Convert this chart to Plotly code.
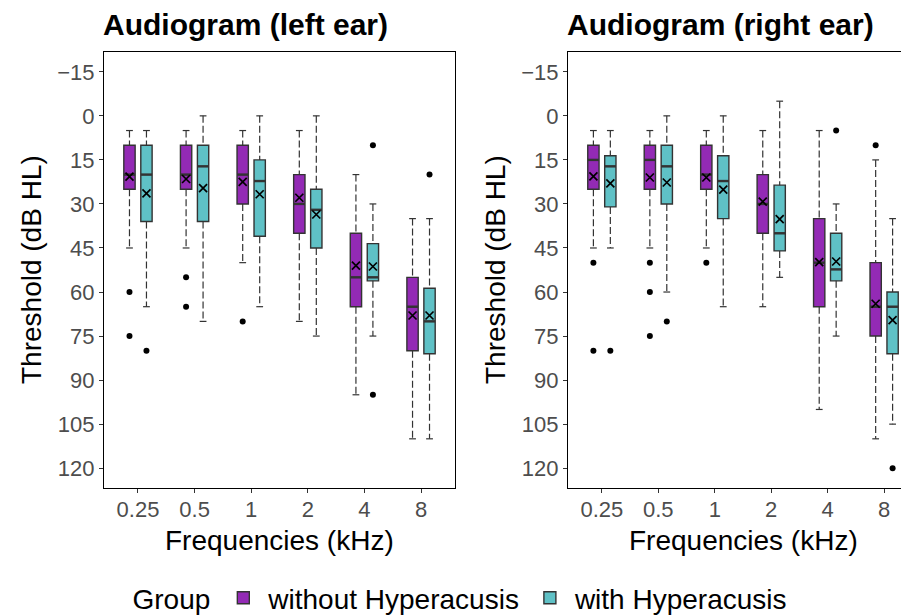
import plotly.graph_objects as go

freqs = ["0.25", "0.5", "1", "2", "4", "8"]

# left ear, without hyperacusis
L_wo_min = [5, 5, 5, 5, 20, 35]
L_wo_q1 = [10, 10, 10, 20, 40, 55]
L_wo_med = [20, 20, 20, 30, 55, 65]
L_wo_q3 = [25, 25, 30, 40, 65, 80]
L_wo_max = [45, 45, 50, 70, 95, 110]
L_wo_mean = [20.7, 21.5, 22.5, 27.9, 51, 68]
L_wo_out_f = ["0.25", "0.25", "0.5", "0.5", "1"]
L_wo_out_v = [60, 75, 55, 65, 70]

# left ear, with hyperacusis
L_w_min = [5, 0, 0, 0, 30, 35]
L_w_q1 = [10, 10, 15, 25, 43.5, 58.7]
L_w_med = [20, 17.2, 22.2, 32, 55, 70]
L_w_q3 = [36, 36, 41, 45, 56.2, 81]
L_w_max = [65, 70, 65, 75, 75, 110]
L_w_mean = [26.4, 24.6, 26.7, 33.6, 51.3, 68]
L_w_out_f = ["0.25", "4", "4", "8"]
L_w_out_v = [80, 10, 95, 20]

# right ear, without hyperacusis
R_wo_min = [5, 5, 5, 5, 5, 15]
R_wo_q1 = [10, 10, 10, 20, 35, 50]
R_wo_med = [15, 15, 20, 30, 50, 65]
R_wo_q3 = [25, 25, 25, 40, 65, 75]
R_wo_max = [45, 45, 45, 65, 100, 110]
R_wo_mean = [20.6, 21, 21, 29.2, 49.8, 64]
R_wo_out_f = ["0.25", "0.25", "0.5", "0.5", "0.5", "1", "8"]
R_wo_out_v = [50, 80, 50, 60, 75, 50, 10]

# right ear, with hyperacusis
R_w_min = [5, 0, 0, -5, 30, 35]
R_w_q1 = [13.6, 10, 13.6, 23.6, 40, 60]
R_w_med = [17.2, 17.2, 22.2, 40, 52.3, 65]
R_w_q3 = [31, 30, 35, 46, 56.2, 81]
R_w_max = [45, 60, 65, 55, 75, 105]
R_w_mean = [23, 22.7, 25.1, 35.2, 49.6, 69.6]
R_w_out_f = ["0.25", "0.5", "4", "8"]
R_w_out_v = [80, 70, 5, 120]

groups = ["without Hyperacusis", "with Hyperacusis"]
colors = {"without Hyperacusis": "#932AB5", "with Hyperacusis": "#5FC1C6"}
offsets = {"without Hyperacusis": -0.15, "with Hyperacusis": 0.15}

data = {
    ("left", "without Hyperacusis"): (L_wo_min, L_wo_q1, L_wo_med, L_wo_q3, L_wo_max, L_wo_mean, L_wo_out_f, L_wo_out_v),
    ("left", "with Hyperacusis"): (L_w_min, L_w_q1, L_w_med, L_w_q3, L_w_max, L_w_mean, L_w_out_f, L_w_out_v),
    ("right", "without Hyperacusis"): (R_wo_min, R_wo_q1, R_wo_med, R_wo_q3, R_wo_max, R_wo_mean, R_wo_out_f, R_wo_out_v),
    ("right", "with Hyperacusis"): (R_w_min, R_w_q1, R_w_med, R_w_q3, R_w_max, R_w_mean, R_w_out_f, R_w_out_v),
}

FONT = "Liberation Sans, Arial, sans-serif"
W, H = 909, 615
PAD = 8  # page body margin
box_w = 0.2
cap = 0.06
edge = "#333333"


def px(v):
    return (v - PAD) / W


def py(v):
    return 1 - (v - PAD) / H


fig = go.Figure()

for side, xa, ya in [("left", "x", "y"), ("right", "x2", "y2")]:
    for g in groups:
        mn, q1, med, q3, mx, mean, out_f, out_v = data[(side, g)]
        pos = [i + offsets[g] for i in range(len(freqs))]

        # dashed whiskers + caps
        wx, wy, cx, cy = [], [], [], []
        for p, a, b, c, d in zip(pos, mn, q1, q3, mx):
            wx += [p, p, None, p, p, None]
            wy += [a, b, None, c, d, None]
            cx += [p - cap, p + cap, None, p - cap, p + cap, None]
            cy += [a, a, None, d, d, None]
        fig.add_trace(go.Scatter(x=wx, y=wy, mode="lines", xaxis=xa, yaxis=ya,
                                 line=dict(color=edge, width=1.2, dash="7px,3px"),
                                 showlegend=False, hoverinfo="skip"))
        fig.add_trace(go.Scatter(x=cx, y=cy, mode="lines", xaxis=xa, yaxis=ya,
                                 line=dict(color=edge, width=1.2),
                                 showlegend=False, hoverinfo="skip"))

        fig.add_trace(go.Box(x=pos, q1=q1, median=med, q3=q3,
                             lowerfence=q1, upperfence=q3,
                             width=box_w, whiskerwidth=0,
                             fillcolor=colors[g], line=dict(color=edge, width=1.4),
                             boxpoints=False, name=g, legendgroup=g,
                             showlegend=(side == "left"), xaxis=xa, yaxis=ya))

        # thicker median bar
        mx_, my_ = [], []
        for p, m in zip(pos, med):
            mx_ += [p - box_w / 2, p + box_w / 2, None]
            my_ += [m, m, None]
        fig.add_trace(go.Scatter(x=mx_, y=my_, mode="lines", xaxis=xa, yaxis=ya,
                                 line=dict(color=edge, width=2.4),
                                 showlegend=False, hoverinfo="skip"))

        fig.add_trace(go.Scatter(x=pos, y=mean, mode="markers", xaxis=xa, yaxis=ya,
                                 marker=dict(symbol="x-thin", size=8, color="black",
                                             line=dict(width=1.7, color="black")),
                                 showlegend=False, hoverinfo="skip"))

        ox = [freqs.index(f) + offsets[g] for f in out_f]
        fig.add_trace(go.Scatter(x=ox, y=out_v, mode="markers", xaxis=xa, yaxis=ya,
                                 marker=dict(symbol="circle", size=6, color="black"),
                                 showlegend=False, hoverinfo="skip"))

xcommon = dict(tickvals=list(range(len(freqs))), ticktext=freqs, showgrid=False,
               zeroline=False, showline=True, linecolor="black", linewidth=1.2,
               mirror=True, ticks="outside", ticklen=4, tickcolor=edge,
               ticklabelstandoff=-3,
               tickfont=dict(size=22, color="#4D4D4D", family=FONT))
ycommon = dict(tickmode="linear", tick0=-15, dtick=15, range=[126.75, -21.75],
               showgrid=False, zeroline=False, showline=True, linecolor="black",
               linewidth=1.2, ticks="outside", ticklen=4, tickcolor=edge,
               tickfont=dict(size=22, color="#4D4D4D", family=FONT))

# right panel runs past the page edge, as in the reference
r_left, r_right = 568, 918
r_span = (W + PAD - r_left) / (r_right - r_left) * 6.2

fig.update_layout(
    width=W, height=H, autosize=False,
    margin=dict(l=0, r=0, t=0, b=0),
    paper_bgcolor="white", plot_bgcolor="white",
    font=dict(family=FONT, color="black"),
    xaxis=dict(domain=[px(104), px(455)], range=[-0.6, 5.6], anchor="y", **xcommon),
    yaxis=dict(domain=[py(488), py(52)], anchor="x", mirror=True, **ycommon),
    xaxis2=dict(domain=[px(r_left), 1.0], range=[-0.6, -0.6 + r_span], anchor="y2", **xcommon),
    yaxis2=dict(domain=[py(488), py(52)], anchor="x2", mirror=False, **ycommon),
    showlegend=True,
    legend=dict(orientation="h", x=px(462), xanchor="center", y=py(598),
                yanchor="middle", title=dict(text="Group", side="left",
                                             font=dict(size=28, family=FONT)),
                font=dict(size=28, family=FONT), itemwidth=40,
                bgcolor="rgba(0,0,0,0)"),
)

annots = [
    dict(text="<b>Audiogram (left ear)</b>", x=px(101), y=py(24.5),
         xanchor="left", yanchor="middle", font=dict(size=30)),
    dict(text="<b>Audiogram (right ear)</b>", x=px(565), y=py(24.5),
         xanchor="left", yanchor="middle", font=dict(size=30)),
    dict(text="Frequencies (kHz)", x=px(279.5), y=py(540),
         xanchor="center", yanchor="middle", font=dict(size=28)),
    dict(text="Frequencies (kHz)", x=px(743), y=py(540),
         xanchor="center", yanchor="middle", font=dict(size=28)),
    dict(text="Threshold (dB HL)", x=px(31), y=py(270), textangle=-90,
         xanchor="center", yanchor="middle", font=dict(size=28)),
    dict(text="Threshold (dB HL)", x=px(495), y=py(270), textangle=-90,
         xanchor="center", yanchor="middle", font=dict(size=28)),
]
for a in annots:
    a.update(xref="paper", yref="paper", showarrow=False)
    a["font"].update(family=FONT, color="black")
fig.update_layout(annotations=annots)

fig.write_html("out.html")
